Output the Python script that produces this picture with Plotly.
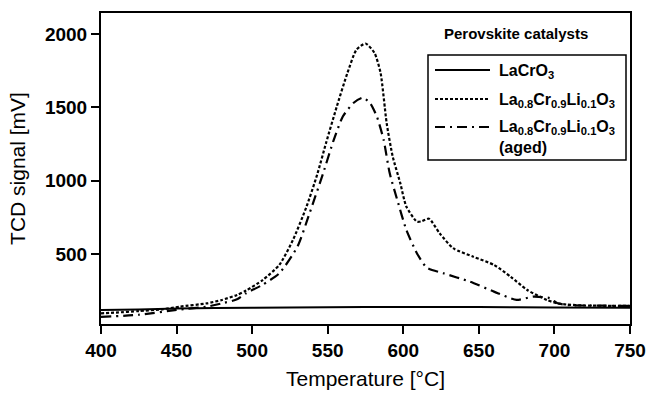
import plotly.graph_objects as go

# LaCrO3
t_lacro3 = [400, 425, 450, 500, 550, 600, 650, 700, 750]
v_lacro3 = [118, 121, 127, 133, 137, 138, 138, 135, 133]

# La0.8Cr0.9Li0.1O3
t_fresh = [400, 410, 425, 440, 452, 470, 480, 490, 496, 507, 518, 527, 536, 543, 549,
           556, 563, 569, 575, 581, 585, 589, 593, 598, 602, 609, 612, 617, 624, 633,
           646, 660, 671, 682, 695, 701, 708, 720, 735, 750]
v_fresh = [95, 100, 110, 122, 140, 163, 186, 220, 250, 322, 425, 595, 823, 1040, 1260,
           1505, 1733, 1892, 1935, 1870, 1733, 1392, 1164, 983, 823, 720, 722, 740, 641, 539,
           482, 425, 345, 254, 186, 165, 155, 148, 146, 145]

# La0.8Cr0.9Li0.1O3 (aged)
t_aged = [400, 425, 450, 470, 480, 490, 496, 507, 518, 530, 538, 547, 554, 560, 567,
          573, 578, 582.5, 587, 591, 596, 602, 609, 615.5, 626.5, 644, 660, 675, 686,
          697, 702, 710, 725, 750]
v_aged = [70, 85, 118, 140, 163, 190, 232, 290, 368, 550, 778, 1051, 1278, 1437, 1529,
          1565, 1529, 1437, 1278, 1051, 869, 664, 505, 407, 368, 311, 243, 186, 209,
          198, 163, 150, 148, 145]

names = ["LaCrO<sub>3</sub>",
         "La<sub>0.8</sub>Cr<sub>0.9</sub>Li<sub>0.1</sub>O<sub>3</sub>",
         "La<sub>0.8</sub>Cr<sub>0.9</sub>Li<sub>0.1</sub>O<sub>3</sub>"]
aged_note = "(aged)"
legend_title = "Perovskite catalysts"

x_ticks = [400, 450, 500, 550, 600, 650, 700, 750]
y_ticks = [500, 1000, 1500, 2000]

FONT = "Liberation Sans, Arial, sans-serif"
DASHES = ["solid", "3px,2px", "10px,5px,2px,5px"]

# plot-area pixel geometry (used only to place the hand-drawn legend)
L, R, T, B = 101, 630, 13, 324
W_PX, H_PX = 646, 393


def px(xp):
    return (xp - L) / (R - L)


def py(yp):
    return (B - yp) / (B - T)


fig = go.Figure()
for tx, vy, nm, dash in [(t_lacro3, v_lacro3, names[0], DASHES[0]),
                         (t_fresh, v_fresh, names[1], DASHES[1]),
                         (t_aged, v_aged, names[2], DASHES[2])]:
    fig.add_trace(go.Scatter(x=tx, y=vy, mode="lines", name=nm, showlegend=False,
                             line=dict(color="black", width=2.2 if dash != "solid" else 2,
                                       dash=dash, shape="spline", smoothing=0.6)))

shapes = [dict(type="rect", xref="paper", yref="paper",
               x0=px(428), x1=px(626), y0=py(160), y1=py(55),
               line=dict(color="black", width=1.5), fillcolor="white", layer="above")]
annotations = [dict(text="<b>%s</b>" % legend_title, xref="paper", yref="paper",
                    x=px(516), y=py(33), xanchor="center", yanchor="middle",
                    showarrow=False, font=dict(family=FONT, size=15, color="black"))]
entry_y = [70, 99, 127]
for i, yy in enumerate(entry_y):
    shapes.append(dict(type="line", xref="paper", yref="paper",
                       x0=px(435), x1=px(490), y0=py(yy), y1=py(yy), layer="above",
                       line=dict(color="black", width=2.2 if i else 2, dash=DASHES[i])))
    annotations.append(dict(text="<b>%s</b>" % names[i], xref="paper", yref="paper",
                            x=px(497), y=py(yy + 1), xanchor="left", yanchor="middle",
                            showarrow=False,
                            font=dict(family=FONT, size=16, color="black")))
annotations.append(dict(text="<b>%s</b>" % aged_note, xref="paper", yref="paper",
                        x=px(497), y=py(147), xanchor="left", yanchor="middle",
                        showarrow=False, font=dict(family=FONT, size=16, color="black")))

fig.update_layout(
    width=W_PX, height=H_PX,
    margin=dict(l=L, r=W_PX - R, t=T, b=H_PX - B),
    paper_bgcolor="white", plot_bgcolor="white",
    font=dict(family=FONT, color="black"),
    showlegend=False,
    shapes=shapes, annotations=annotations,
)

fig.update_xaxes(range=[400, 750], tickvals=x_ticks, ticks="outside", ticklen=8,
                 tickwidth=2, tickcolor="black", showline=True, linewidth=2,
                 linecolor="black", mirror=True, showgrid=False, zeroline=False,
                 automargin=False,
                 tickfont=dict(family=FONT, size=19, weight="bold"),
                 title=dict(text="Temperature [°C]", font=dict(family=FONT, size=21), standoff=12))
fig.update_yaxes(range=[22, 2143], tickvals=y_ticks, ticks="outside", ticklen=8,
                 tickwidth=2, tickcolor="black", showline=True, linewidth=2,
                 linecolor="black", mirror=True, showgrid=False, zeroline=False,
                 automargin=False,
                 tickfont=dict(family=FONT, size=19, weight="bold"),
                 title=dict(text="TCD signal [mV]", font=dict(family=FONT, size=21), standoff=14))

fig.write_html("out.html",
               config={"displayModeBar": False, "staticPlot": True},
               post_script="document.body.style.margin='0px';"
                           "document.body.style.overflow='hidden';")
